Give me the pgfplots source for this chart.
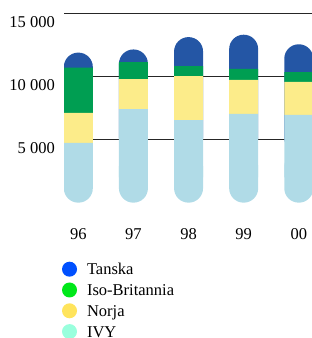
\documentclass[border=0pt]{standalone}
\usepackage{fontspec}
\setmainfont{Liberation Serif}
\usepackage{pgfplots}
\pgfplotsset{compat=1.18}
\definecolor{tanska}{HTML}{2456A5}
\definecolor{iso}{HTML}{009E52}
\definecolor{norja}{HTML}{FCEC8A}
\definecolor{ivy}{HTML}{B0DBE7}
\definecolor{tanskaL}{HTML}{0050FF}
\definecolor{isoL}{HTML}{00E81A}
\definecolor{norjaL}{HTML}{FFE45C}
\definecolor{ivyL}{HTML}{99FFDD}
\pgfplotsset{
  common/.style={
    scale only axis, width=248bp, height=189bp,
    at={(64bp,135.33bp)}, anchor=south west,
    xmin=-0.26, xmax=4.24, ymin=0, ymax=15000,
    axis line style={draw=none}, tick style={draw=none},
    major tick length=0pt, scaled y ticks=false, scaled x ticks=false,
    font=\fontsize{16.5bp}{19bp}\selectfont,
  }
}
\begin{document}
\begin{tikzpicture}
\useasboundingbox (0,0) rectangle (312bp,338bp);
% back layer: rounded caps
\begin{axis}[common, ybar stacked, bar width=0.526,
  ymajorgrids, grid style={black!85, line width=1bp},
  ytick={5000,10000,15000}, yticklabels={5 000,10 000,15 000},
  yticklabel style={anchor=east, inner sep=0pt, xshift=-9bp, yshift=-8.5bp},
  xtick={0,1,2,3,4}, xticklabels={96,97,98,99,00},
  xticklabel style={anchor=north, inner sep=0pt, yshift=-25.7bp},
]
\addplot[fill=ivy, draw=none, rounded corners=14.4bp] coordinates {(0,4000) (1,4000) (2,4000) (3,4000) (4,4000)};
\addplot[fill=tanska, draw=none, rounded corners=14.4bp] coordinates {(0,7910) (1,8160) (2,9140) (3,9330) (4,8570)};
\end{axis}
% front layer: square segments
\begin{axis}[common, ybar stacked, bar width=0.526,
  xtick=\empty, ytick=\empty,
  legend image code/.code={\fill[#1, draw=none] (7.5bp,0) circle (7.5bp);},
  legend cell align=left,
  legend style={at={(-0.008,-0.3123)}, anchor=north west, draw=none, fill=none,
    inner sep=0pt, outer sep=0pt, row sep=5.8bp,
    nodes={inner sep=0pt, text height=11bp, text depth=0bp},
    /tikz/every odd column/.style={column sep=10bp}},
]
\addplot[draw=none, fill=none, forget plot] coordinates {(0,2000) (1,2000) (2,2000) (3,2000) (4,2000)};
\addplot[fill=ivy, draw=none, forget plot] coordinates {(0,2740) (1,5430) (2,4560) (3,5040) (4,4960)};
\addplot[fill=norja, draw=none, forget plot] coordinates {(0,2380) (1,2380) (2,3490) (3,2700) (4,2620)};
\addplot[fill=iso, draw=none, forget plot] coordinates {(0,3600) (1,1350) (2,790) (3,870) (4,790)};
\addlegendimage{fill=tanskaL, draw=none}
\addlegendentry{Tanska}
\addlegendimage{fill=isoL, draw=none}
\addlegendentry{Iso-Britannia}
\addlegendimage{fill=norjaL, draw=none}
\addlegendentry{Norja}
\addlegendimage{fill=ivyL, draw=none}
\addlegendentry{IVY}
\end{axis}
\end{tikzpicture}
\end{document}
